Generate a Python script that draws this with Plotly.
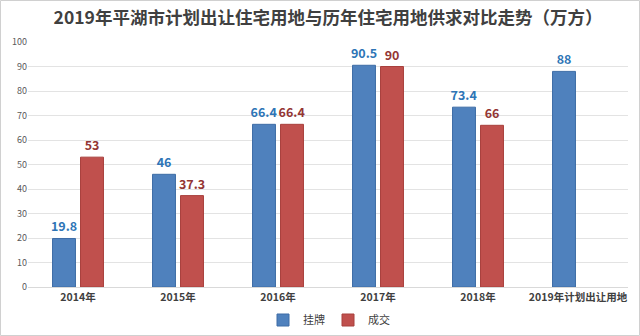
import plotly.graph_objects as go

categories = ["2014年", "2015年", "2016年", "2017年", "2018年", "2019年计划出让用地"]
listed = [19.8, 46, 66.4, 90.5, 73.4, 88]
traded = [53, 37.3, 66.4, 90, 66, None]
y_ticks = list(range(0, 101, 10))

font_family = "Noto Sans CJK SC, Noto Sans, sans-serif"

W, H = 640, 336
ML, MR, MT, MB = 28, 12, 42, 49

fig = go.Figure()
fig.add_trace(go.Bar(
    name="挂牌", x=categories, y=listed,
    marker=dict(color="#4F81BD", line=dict(color="#3E6DA6", width=1)),
    text=[f"{v:g}" for v in listed], textposition="outside",
    textfont=dict(color="#2E75B6", size=12.5, family=font_family, weight="bold"),
    cliponaxis=False,
))
fig.add_trace(go.Bar(
    name="成交", x=categories, y=traded,
    marker=dict(color="#C0504D", line=dict(color="#A8403D", width=1)),
    text=[("" if v is None else f"{v:g}") for v in traded], textposition="outside",
    textfont=dict(color="#943634", size=12.5, family=font_family, weight="bold"),
    cliponaxis=False,
))

fig.update_layout(
    width=W, height=H,
    margin=dict(l=ML, r=MR, t=MT, b=MB, autoexpand=False),
    paper_bgcolor="white", plot_bgcolor="white",
    font=dict(family=font_family, color="#595959"),
    title=dict(text="<b>2019年平湖市计划出让住宅用地与历年住宅用地供求对比走势（万方）</b>",
               x=0.5, xanchor="center", xref="paper", yref="container", y=1 - 18 / H, yanchor="middle",
               font=dict(size=17.5, color="#404040", family=font_family)),
    barmode="group", bargap=0.44, bargroupgap=0.18,
    uniformtext=dict(minsize=12.5, mode="show"),
    showlegend=True,
    legend=dict(orientation="h", x=0.5, xanchor="center", yref="container", y=16 / H, yanchor="middle",
                font=dict(size=11, color="#404040"), traceorder="normal",
                itemwidth=30, entrywidth=20, tracegroupgap=0),
    xaxis=dict(tickfont=dict(size=10.5, color="#404040", weight="bold"),
               showline=True, linecolor="#D9D9D9", ticks=""),
    yaxis=dict(range=[0, 100], tickvals=y_ticks, tickfont=dict(size=9, color="#595959"),
               gridcolor="#E3E3E3", zeroline=False, ticks="", showline=False),
)
pw, ph = W - ML - MR, H - MT - MB
fig.add_shape(type="rect", xref="paper", yref="paper",
              x0=-(ML - 0.5) / pw, x1=1 + (MR - 0.5) / pw,
              y0=-(MB - 0.5) / ph, y1=1 + (MT - 0.5) / ph,
              line=dict(color="#D0D0D0", width=1))

fig.write_html("out.html")
